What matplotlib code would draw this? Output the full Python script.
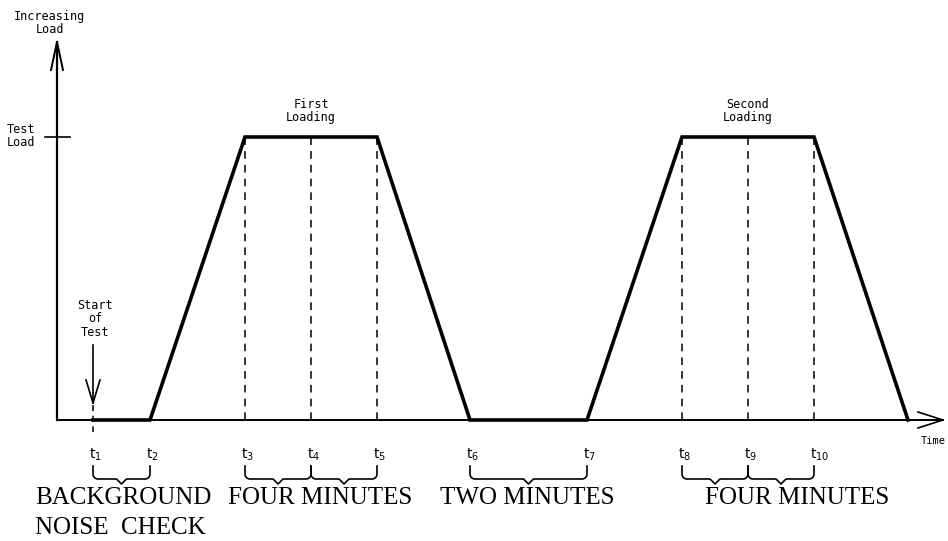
import numpy as np
import matplotlib.pyplot as plt

# time marks (drawing units along the time axis) and load levels
t_labels = ['1', '2', '3', '4', '5', '6', '7', '8', '9', '10']
t_pos = [93, 150, 245, 311, 377, 470, 587, 682, 748, 814]

# load profile: t1..t2 zero, ramp to test load, hold, ramp down ...
profile_t = [93, 150, 245, 377, 470, 587, 682, 814, 908]
profile_load = [0, 0, 1, 1, 0, 0, 1, 1, 0]

dashed_marks = [245, 311, 377, 682, 748, 814]

# braces under the time labels: (start, end)
braces = [(93, 150), (245, 311), (311, 377), (470, 587), (682, 748), (748, 814)]

periods = ['BACKGROUND', 'FOUR MINUTES', 'TWO MINUTES', 'FOUR MINUTES']
period_x = [35, 228, 440, 705]

# y mapping: load 0 sits at pixel row 420, test load at 137
def ly(py):
    return (420 - py) / 283.0

fig = plt.figure(figsize=(9.48, 5.41), dpi=100)
ax = fig.add_axes([0, 0, 1, 1])
ax.set_xlim(0, 948)
ax.set_ylim(ly(541), ly(0))
ax.axis('off')

k = 'black'
pf = 'DejaVu Sans Mono'
fs = 8.5

# axes
ax.plot([57, 57], [ly(420), ly(42)], color=k, lw=1.6)
ax.plot([57, 943], [ly(420), ly(420)], color=k, lw=1.4)
# open arrow heads
ax.plot([51, 57, 63], [ly(70), ly(42), ly(70)], color=k, lw=1.4)
ax.plot([918, 943, 918], [ly(412), ly(420), ly(428)], color=k, lw=1.2)

# test load tick
ax.plot([45, 70], [1, 1], color=k, lw=1.2)

# load profile
ax.plot(profile_t, profile_load, color=k, lw=2.6, solid_joinstyle='miter')

# dashed time markers
for x in dashed_marks:
    ax.plot([x, x], [0, 1], color=k, lw=1.1, ls=(0, (5, 4)))
ax.plot([t_pos[0], t_pos[0]], [ly(405), ly(432)], color=k, lw=1.1, ls=(0, (4, 3)))

# start of test arrow
ax.plot([93, 93], [ly(345), ly(403)], color=k, lw=1.2)
ax.plot([86, 93, 100], [ly(380), ly(403), ly(380)], color=k, lw=1.2)
ax.text(95, ly(319), 'Start\nof\nTest', ha='center', va='center',
        fontsize=fs, family=pf, linespacing=1.05)

# axis texts
ax.text(50, ly(23), 'Increasing\nLoad', ha='center', va='center',
        fontsize=fs, family=pf, linespacing=1.05)
ax.text(21, ly(136), 'Test\nLoad', ha='center', va='center',
        fontsize=fs, family=pf, linespacing=1.05)
ax.text(921, ly(441), 'Time', ha='left', va='center',
        fontsize=7.5, family=pf)
ax.text(311, ly(111), 'First\nLoading', ha='center', va='center',
        fontsize=fs, family=pf, linespacing=1.05)
ax.text(748, ly(111), 'Second\nLoading', ha='center', va='center',
        fontsize=fs, family=pf, linespacing=1.05)

# time labels
for lab, x in zip(t_labels, t_pos):
    ax.text(x - 4, ly(455), r'$\mathregular{t_{%s}}$' % lab, ha='left', va='center',
            fontsize=10, family='DejaVu Sans')

# braces
def brace(x0, x1):
    top, mid, tip = 466, 479, 484
    r = 5
    c = (x0 + x1) / 2
    th = np.linspace(np.pi, 1.5 * np.pi, 10)
    xs = [x0]
    ys = [top]
    xs += list(x0 + r + r * np.cos(th))
    ys += list(mid - r - r * np.sin(th))
    xs += [c - r, c, c + r]
    ys += [mid, tip, mid]
    th2 = np.linspace(1.5 * np.pi, 2 * np.pi, 10)
    xs += list(x1 - r + r * np.cos(th2))
    ys += list(mid - r - r * np.sin(th2))
    xs += [x1]
    ys += [top]
    ax.plot(xs, [ly(v) for v in ys], color=k, lw=1.2)

for a, b in braces:
    brace(a, b)

# period captions
serif = 'Liberation Serif'
for lab, x in zip(periods, period_x):
    ax.text(x, ly(498), lab, ha='left', va='center', fontsize=18, family=serif)
ax.text(period_x[0], ly(528), 'NOISE  CHECK', ha='left', va='center', fontsize=18, family=serif)

fig.savefig('out.png', dpi=100)
